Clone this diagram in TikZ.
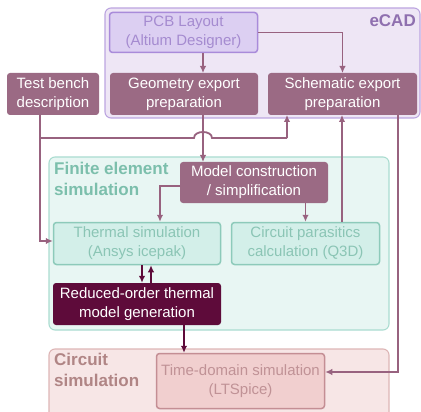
\documentclass[tikz,border=0pt]{standalone}
\usepackage{fontspec}
\setmainfont{Liberation Sans}
\usetikzlibrary{arrows.meta}
\definecolor{mauve}{HTML}{9B6A84}
\definecolor{arrowc}{HTML}{98627F}
\definecolor{darkp}{HTML}{5E0B3A}
\definecolor{ecadfill}{HTML}{EEE6F5}
\definecolor{ecaddraw}{HTML}{BCA5E0}
\definecolor{ecadtext}{HTML}{8F70AF}
\definecolor{pcbfill}{HTML}{DCCFF2}
\definecolor{pcbdraw}{HTML}{A98BDA}
\definecolor{pcbtext}{HTML}{A58BD0}
\definecolor{fefill}{HTML}{E8F6F3}
\definecolor{fedraw}{HTML}{AADCD0}
\definecolor{fetext}{HTML}{7CBFAC}
\definecolor{thfill}{HTML}{D3EFE9}
\definecolor{thdraw}{HTML}{8DCABA}
\definecolor{thtext}{HTML}{8BC5B5}
\definecolor{cfill}{HTML}{F7E6E6}
\definecolor{cdraw}{HTML}{DDB5B5}
\definecolor{ctext}{HTML}{B08585}
\definecolor{tdfill}{HTML}{F1CFCF}
\definecolor{tddraw}{HTML}{C48E94}
\definecolor{tdtext}{HTML}{C09296}
\tikzset{
  nodetext/.style={font=\fontsize{15}{19}\selectfont, align=center, inner sep=0pt},
  darkbox/.style={nodetext, rectangle, rounded corners=3pt, fill=mauve, text=white, line width=0pt},
  pcbbox/.style={nodetext, rectangle, rounded corners=3pt, fill=pcbfill, draw=pcbdraw, line width=1.5pt, text=pcbtext},
  thbox/.style={nodetext, rectangle, rounded corners=3pt, fill=thfill, draw=thdraw, line width=1.5pt, text=thtext},
  tdbox/.style={nodetext, rectangle, rounded corners=3pt, fill=tdfill, draw=tddraw, line width=1.5pt, text=tdtext},
  rombox/.style={nodetext, rectangle, rounded corners=3pt, fill=darkp, text=white},
  groupbox/.style={rounded corners=6pt, line width=1.1pt},
  grouplabel/.style={font=\fontsize{17}{21}\selectfont\bfseries, align=left, inner sep=0pt},
  arr/.style={draw=arrowc, line width=1.8pt, -{Latex[length=7pt,width=6.5pt]}},
  line/.style={draw=arrowc, line width=1.8pt},
  darr/.style={draw=darkp, line width=1.8pt, -{Latex[length=7pt,width=6.5pt]}}
}
\begin{document}
\begin{tikzpicture}[x=1pt,y=-1pt]
\useasboundingbox (0,0) rectangle (421,412);
% group boxes
\draw[groupbox, fill=ecadfill, draw=ecaddraw] (105,8) rectangle (420,118);
\node[grouplabel, text=ecadtext, anchor=north east] (ecadlbl) at (416,14) {eCAD};
\draw[groupbox, fill=fefill, draw=fedraw] (49,157) rectangle (389,330);
\node[grouplabel, text=fetext, anchor=north west] (felbl) at (54,162) {Finite element\\simulation};
\draw[groupbox, fill=cfill, draw=cdraw] (49,349) rectangle (389,418);
\node[grouplabel, text=ctext, anchor=north west] (clbl) at (54,353) {Circuit\\simulation};
% nodes
\node[pcbbox, minimum width=148pt, minimum height=40pt] (pcb) at (183.5,32.5) {PCB Layout\\(Altium Designer)};
\node[darkbox, minimum width=148pt, minimum height=42pt] (geom) at (184,94) {Geometry export\\preparation};
\node[darkbox, minimum width=149pt, minimum height=42pt] (schem) at (342.5,94) {Schematic export\\preparation};
\node[darkbox, minimum width=92pt, minimum height=42pt] (test) at (53,94) {Test bench\\description};
\node[darkbox, minimum width=148pt, minimum height=41pt] (model) at (254,182.5) {Model construction\\/ simplification};
\node[thbox, minimum width=167pt, minimum height=42pt] (therm) at (137,243.5) {Thermal simulation\\(Ansys icepak)};
\node[thbox, minimum width=148pt, minimum height=42pt] (paras) at (305.5,243.5) {Circuit parasitics\\calculation (Q3D)};
\node[rombox, minimum width=168pt, minimum height=42pt] (rom) at (137,304) {Reduced-order thermal\\model generation};
\node[tdbox, minimum width=168pt, minimum height=55pt] (td) at (240.5,381) {Time-domain simulation\\(LTSpice)};
% helper coordinates
\coordinate (gx) at (203,0);
\coordinate (tx) at (40,0);
\coordinate (sx) at (287,0);
\coordinate (px) at (342,0);
\coordinate (rx) at (398,0);
\coordinate (mx) at (160,0);
\coordinate (busy) at (0,138);
\coordinate (thy) at (0,241);
\coordinate (tdy) at (0,372);
\coordinate (modely) at (0,186);
\coordinate (t1) at (142,0);
\coordinate (t2) at (151,0);
\coordinate (rox) at (184,0);
\coordinate (jl) at (194,138);
\coordinate (jr) at (212,138);
\coordinate (jc1) at (194,130);
\coordinate (jc2) at (212,130);
% connectors
\draw[arr] (pcb.south -| gx) -- (geom.north -| gx);
\draw[arr] (pcb.east) -| (schem.north);
\draw[arr] (geom.south -| gx) -- (model.north -| gx);
\draw[line] (test.south -| tx) -- (tx |- busy) -- (jl) .. controls (jc1) and (jc2) .. (jr) -- (sx |- busy);
\draw[arr] (sx |- busy) -- (schem.south -| sx);
\draw[arr] (tx |- busy) -- (tx |- thy) -- (therm.west |- thy);
\draw[arr] (paras.north -| px) -- (schem.south -| px);
\draw[arr] (schem.south -| rx) -- (rx |- tdy) -- (td.east |- tdy);
\draw[arr] (model.west |- modely) -| (therm.north -| mx);
\draw[arr] (model.south -| paras.north) -- (paras.north);
\draw[darr] (therm.south -| t1) -- (rom.north -| t1);
\draw[darr] (rom.north -| t2) -- (therm.south -| t2);
\draw[darr] (rom.south -| rox) -- (td.north -| rox);
\end{tikzpicture}
\end{document}
